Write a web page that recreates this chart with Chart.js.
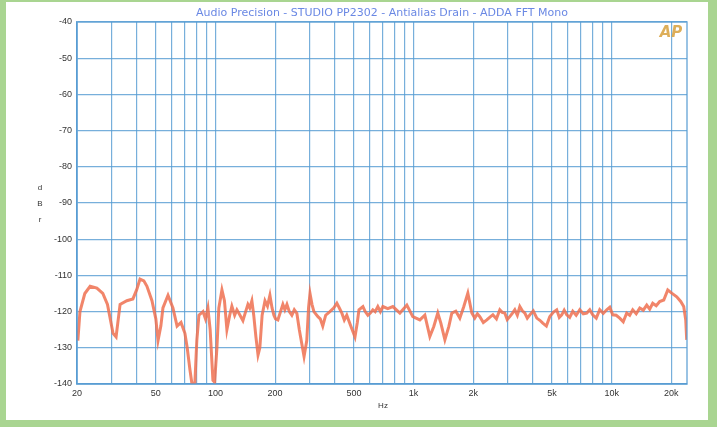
<!DOCTYPE html>
<html>
<head>
<meta charset="utf-8">
<title>ADDA FFT Mono</title>
<script src="https://cdn.jsdelivr.net/npm/chart.js@4.4.1/dist/chart.umd.min.js"></script>
<style>
    html, body { margin: 0; padding: 0; background: #a9d591; }
    #wrap { position: relative; width: 717px; height: 427px; }
</style>
</head>
<body>
<div id="wrap"><canvas id="fft" width="717" height="427"></canvas></div>
<script>
// frequency (Hz) of each point
const freqs = [
    20.2, 20.7, 21.9, 23.3, 25.2, 27.0, 28.5, 30.4, 31.5, 33.0,
    35.7, 38.3, 40.0, 41.6, 43.5, 45.1, 47.8, 50.0, 51.3, 53.0,
    54.3, 57.6, 61.0, 64.0, 67.0, 70.1, 72.0, 74.3, 76.0, 78.7,
    80.5, 82.5, 86.5, 89.0, 91.6, 94.0, 97.1, 99.0, 101.7, 104,
    107.8, 111, 114.2, 118, 121, 125, 128.3, 133, 137.6, 142,
    145.8, 149, 152.7, 156, 160, 164, 167.5, 172, 177.8, 183,
    188.3, 193, 197.2, 201, 206.6, 213, 218.9, 224, 229.5, 236,
    243, 250, 257.6, 265, 273, 280, 289, 295, 300, 307,
    314, 329, 338, 348, 360, 378, 395, 410, 422, 435,
    447, 460, 482, 506, 520, 530, 555, 570, 588, 605,
    623, 640, 660, 680, 700, 741, 786, 853, 925, 991,
    1076, 1140, 1208, 1265, 1325, 1373, 1439, 1507, 1560, 1634,
    1712, 1793, 1879, 1968, 2037, 2100, 2160, 2250, 2343, 2430,
    2513, 2620, 2725, 2800, 2886, 2970, 3060, 3150, 3244, 3340,
    3438, 3540, 3643, 3750, 3862, 4020, 4188, 4340, 4490, 4680,
    4868, 5070, 5280, 5440, 5597, 5760, 5932, 6140, 6361, 6620,
    6899, 7190, 7485, 7750, 8022, 8360, 8704, 9070, 9440, 9780,
    10120, 10540, 10980, 11440, 11910, 12330, 12770, 13300, 13860, 14440,
    15030, 15560, 16110, 16780, 17470, 18320, 19190, 20090, 21300, 22310,
    23100, 23650, 23920
];

// level in dBr for each frequency
const levels = [
    -128, -120, -115, -113, -113.5, -115, -118, -126, -127, -118,
    -117, -116.5, -114, -111, -111.5, -113, -117, -122, -128, -124,
    -119, -115.5, -119, -124, -123, -126, -130, -136, -139.8, -139.8,
    -128, -121, -120, -122, -119, -125, -139, -139.5, -130, -119,
    -114, -117, -125, -121, -118.5, -121, -119.5, -121, -122.5, -120,
    -118, -119, -117, -121, -127, -132, -130, -121, -117, -118.5,
    -115.5, -119, -121, -122, -122.3, -120, -118, -119.5, -118, -120,
    -121, -119.5, -120.5, -125, -129, -132.4, -128, -119, -115, -118,
    -120, -121.4, -122, -124, -121, -120, -119, -117.7, -119, -120.5,
    -122.3, -121, -124, -127, -123, -119.5, -118.6, -120, -121, -120.4,
    -119.5, -120, -118.6, -120, -118.6, -119.2, -118.6, -120.4, -118.2, -121.4,
    -122.3, -121, -126.9, -124.1, -120.4, -123.2, -127.8, -124.1, -120.4, -119.9,
    -121.8, -118.6, -114.9, -120.4, -121.8, -120.6, -121.4, -123.0, -122.3, -121.5,
    -120.9, -122.0, -119.5, -120.2, -120.4, -122.2, -121.4, -120.5, -119.5, -121.0,
    -118.6, -119.8, -120.4, -121.8, -120.9, -119.8, -121.8, -122.4, -123.2, -124.0,
    -121.4, -120.2, -119.5, -121.6, -120.9, -119.6, -120.9, -121.6, -119.9, -121.0,
    -119.5, -120.6, -120.4, -119.5, -120.9, -121.8, -119.5, -120.5, -119.5, -118.8,
    -120.9, -121.0, -121.8, -122.8, -120.4, -121.0, -119.5, -120.6, -119.0, -119.6,
    -118.2, -119.3, -117.7, -118.4, -117.2, -116.8, -114.0, -114.9, -115.9, -117.2,
    -118.6, -122.3, -127.8
];

// gridline positions on the frequency axis, and the ones that carry a label
const xGrid = [
    20, 30, 40, 50, 60, 70, 80, 90,
    100, 200, 300, 400, 500, 600, 700, 800, 900,
    1000, 2000, 3000, 4000, 5000, 6000, 7000, 8000, 9000,
    10000, 20000
];
const xLabelValues = [20, 50, 100, 200, 500, 1000, 2000, 5000, 10000, 20000];
const xLabelText = ['20', '50', '100', '200', '500', '1k', '2k', '5k', '10k', '20k'];

const titleText = 'Audio Precision - STUDIO PP2302 - Antialias Drain - ADDA FFT Mono';

document.addEventListener('DOMContentLoaded', () => {
    const canvas = document.getElementById('fft');
    const gridColor = 'rgba(85,155,210,0.8)';

    const points = freqs.map((f, i) => ({ x: f, y: levels[i] }));

    // frame, title, logo and stacked axis letters
    const decor = {
        id: 'decor',
        beforeDraw(chart) {
            const ctx = chart.ctx;
            ctx.save();
            ctx.fillStyle = '#a9d591';
            ctx.fillRect(0, 0, 717, 427);
            ctx.fillStyle = '#ffffff';
            ctx.fillRect(6, 2, 702, 418);
            ctx.restore();
        },
        afterDraw(chart) {
            const ctx = chart.ctx;
            const a = chart.chartArea;
            ctx.save();
            ctx.strokeStyle = gridColor;
            ctx.lineWidth = 1.5;
            ctx.strokeRect(a.left, a.top, a.right - a.left, a.bottom - a.top);

            ctx.fillStyle = '#6a88e4';
            ctx.font = '11px "DejaVu Sans", sans-serif';
            ctx.textAlign = 'center';
            ctx.textBaseline = 'middle';
            ctx.fillText(titleText, 382, 13);

            ctx.fillStyle = '#333';
            ctx.font = '8px "Liberation Sans", Arial, sans-serif';
            ctx.fillText('Hz', 383, 406);
            ['d', 'B', 'r'].forEach((c, i) => ctx.fillText(c, 40, 188 + i * 16));

            ctx.fillStyle = 'rgba(215,160,60,0.85)';
            ctx.font = 'italic bold 15px "DejaVu Sans", sans-serif';
            ctx.fillText('AP', 671, 33);
            ctx.restore();
        }
    };

    new Chart(canvas, {
        type: 'line',
        data: {
            datasets: [{
                data: points,
                borderColor: 'rgba(238,112,80,0.85)',
                borderWidth: 3,
                pointRadius: 0,
                tension: 0,
                fill: false
            }]
        },
        options: {
            responsive: false,
            animation: false,
            layout: { padding: { left: 0, right: 30, top: 22, bottom: 0 } },
            plugins: {
                legend: { display: false },
                tooltip: { enabled: false }
            },
            scales: {
                x: {
                    type: 'logarithmic',
                    min: 20,
                    max: 24000,
                    afterBuildTicks: scale => {
                        scale.ticks = xGrid.map(v => ({ value: v }));
                    },
                    afterFit: scale => { scale.height = 43; },
                    grid: { color: gridColor, lineWidth: 1.2, drawTicks: false },
                    border: { color: gridColor, width: 1.5 },
                    ticks: {
                        autoSkip: false,
                        maxRotation: 0,
                        padding: 4,
                        color: '#333',
                        font: { size: 9, family: '"Liberation Sans", Arial, sans-serif' },
                        callback: value => {
                            const idx = xLabelValues.indexOf(value);
                            return idx >= 0 ? xLabelText[idx] : '';
                        }
                    }
                },
                y: {
                    min: -140,
                    max: -40,
                    afterFit: scale => { scale.width = 77; },
                    grid: { color: gridColor, lineWidth: 1.2, drawTicks: false },
                    border: { color: gridColor, width: 1.5 },
                    ticks: {
                        stepSize: 10,
                        padding: 5,
                        color: '#333',
                        font: { size: 9, family: '"Liberation Sans", Arial, sans-serif' }
                    }
                }
            }
        },
        plugins: [decor]
    });
});
</script>
</body>
</html>
